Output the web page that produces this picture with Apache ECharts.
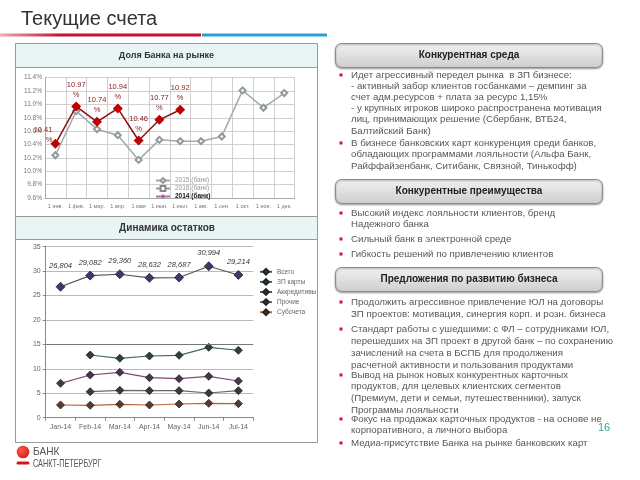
<!DOCTYPE html>
<html><head><meta charset="utf-8">
<script src="https://cdn.jsdelivr.net/npm/echarts@6/dist/echarts.min.js"></script>
<style>html,body{margin:0;padding:0;background:#fff;}#c{width:640px;height:480px;}</style>
</head><body><div id="c"></div>
<script>
// ---- data ----
const shareMonths = ['1 янв.', '1 фев.', '1 мар.', '1 апр.', '1 мая', '1 июн.', '1 июл.', '1 авг.', '1 сен.', '1 окт.', '1 ноя.', '1 дек.'];
const share2015 = [10.24, 10.90, 10.63, 10.54, 10.17, 10.47, 10.45, 10.45, 10.52, 11.21, 10.95, 11.17];
const shareCurrent = [10.41, 10.97, 10.74, 10.94, 10.46, 10.77, 10.92];
const shareTicks = [9.6, 11.4, 0.2];
const balMonths = ['Jan-14', 'Feb-14', 'Mar-14', 'Apr-14', 'May-14', 'Jun-14', 'Jul-14'];
const balTotal = [26.804, 29.082, 29.360, 28.632, 28.687, 30.994, 29.214];
const balSalary = [null, 12.83, 12.16, 12.63, 12.77, 14.41, 13.80];
const balLetters = [7.04, 8.74, 9.29, 8.19, 7.98, 8.47, 7.51];
const balOther = [null, 5.32, 5.60, 5.53, 5.53, 5.06, 5.53];
const balSub = [2.60, 2.53, 2.74, 2.60, 2.80, 2.94, 2.87];
const balTicks = [0, 35, 5];

const FONT = '"Liberation Sans", Arial, sans-serif';
const chart = echarts.init(document.getElementById('c'), null, {renderer: 'canvas'});

// ---- text content ----
const block1 = [
  {y: 75, lh: 11.2, lines: ['Идет агрессивный передел рынка  в ЗП бизнесе:', '- активный забор клиентов госбанками – демпинг за', 'счет адм.ресурсов + плата за ресурс 1,15%', '- у крупных игроков широко распространена мотивация', 'лиц, принимающих решение (Сбербанк, ВТБ24,', 'Балтийский Банк)']},
  {y: 143, lh: 11.5, lines: ['В бизнесе банковских карт конкуренция среди банков,', 'обладающих программами лояльности (Альфа Банк,', 'Райффайзенбанк, Ситибанк, Связной, Тинькофф)']}
];
const block2 = [
  {y: 213, lh: 11.5, lines: ['Высокий индекс лояльности клиентов, бренд', 'Надежного банка']},
  {y: 239, lh: 11.5, lines: ['Сильный банк в электронной среде']},
  {y: 254, lh: 11.5, lines: ['Гибкость решений по привлечению клиентов']}
];
const block3 = [
  {y: 302, lh: 12.5, lines: ['Продолжить агрессивное привлечение ЮЛ на договоры', 'ЗП проектов: мотивация, синергия корп. и розн. бизнеса']},
  {y: 329, lh: 12, lines: ['Стандарт работы с ушедшими: с ФЛ – сотрудниками ЮЛ,', 'перешедших на ЗП проект в другой банк – по сохранению', 'зачислений на счета в БСПБ для продолжения', 'расчетной активности и пользования продуктами']},
  {y: 375, lh: 11.7, lines: ['Вывод на рынок новых конкурентных карточных', 'продуктов, для целевых клиентских сегментов', '(Премиум, дети и семьи, путешественники), запуск', 'Программы лояльности']},
  {y: 419, lh: 11, lines: ['Фокус на продажах карточных продуктов - на основе не', 'корпоративного, а личного выбора']},
  {y: 443, lh: 11, lines: ['Медиа-присутствие Банка на рынке банковских карт']}
];

function txt(s, x, y, size, color, opts) {
  opts = opts || {};
  const el = {type: 'text', z: 10, silent: true, style: {
    text: s, x: x, y: y, fill: color,
    font: (opts.weight || 'normal') + ' ' + size + 'px ' + (opts.family || FONT),
    align: opts.align || 'left', textAlign: opts.align || 'left',
    verticalAlign: 'middle', textVerticalAlign: 'middle'
  }};
  if (opts.scaleX) { el.scaleX = opts.scaleX; el.originX = x; el.originY = y; }
  return el;
}
const g = [];
// title
g.push(txt('Текущие счета', 21, 19, 20, '#333'));
g.push({type: 'rect', shape: {x: 0, y: 33.5, width: 201, height: 3}, style: {fill: new echarts.graphic.LinearGradient(0, 0, 1, 0, [{offset: 0, color: 'rgba(200,16,46,0.35)'}, {offset: 0.3, color: '#c8102e'}, {offset: 1, color: '#c8102e'}])}});
g.push({type: 'rect', shape: {x: 202, y: 33.5, width: 125, height: 3}, style: {fill: '#2a9fd6'}});
// left panel
g.push({type: 'rect', z: 0, shape: {x: 15.5, y: 43.5, width: 302, height: 399}, style: {fill: 'none', stroke: '#9a9a9a', lineWidth: 1}});
g.push({type: 'rect', z: 0, shape: {x: 15.5, y: 43.5, width: 302, height: 24}, style: {fill: '#e9f4f4', stroke: '#9a9a9a', lineWidth: 1}});
g.push(txt('Доля Банка на рынке', 166.5, 55.5, 9, '#333', {weight: 'bold', align: 'center'}));
g.push({type: 'rect', z: 0, shape: {x: 15.5, y: 216.5, width: 302, height: 23}, style: {fill: '#e9f4f4', stroke: '#9a9a9a', lineWidth: 1}});
g.push(txt('Динамика остатков', 167, 228, 10, '#333', {weight: 'bold', align: 'center'}));
// right headers
function header(y, s) {
  g.push({type: 'rect', z: 1, shape: {x: 335.5, y: y + 0.5, width: 267, height: 24, r: 6},
    style: {fill: new echarts.graphic.LinearGradient(0, 0, 0, 1, [{offset: 0, color: '#f2f2f2'}, {offset: 1, color: '#cdcdcd'}]),
      stroke: '#8c8c8c', lineWidth: 1, shadowBlur: 2, shadowOffsetY: 1, shadowColor: 'rgba(0,0,0,0.35)'}});
  g.push(txt(s, 469, y + 12.5, 10, '#222', {weight: 'bold', align: 'center'}));
}
header(43, 'Конкурентная среда');
header(179, 'Конкурентные преимущества');
header(267, 'Предложения по развитию бизнеса');
function bullets(block) {
  block.forEach(b => {
    g.push({type: 'rect', z: 10, shape: {x: 339.5, y: b.y - 1.5, width: 3, height: 3}, style: {fill: '#d0103a'}});
    b.lines.forEach((l, i) => g.push(txt(l, 351, b.y + i * b.lh, 9.7, '#575757')));
  });
}
bullets(block1); bullets(block2); bullets(block3);
// page number
g.push(txt('16', 604, 428, 11, '#3aa39a', {align: 'center'}));
// logo
g.push({type: 'circle', shape: {cx: 23, cy: 452, r: 6.3}, style: {fill: new echarts.graphic.RadialGradient(0.35, 0.35, 0.8, [{offset: 0, color: '#ff5a4a'}, {offset: 1, color: '#d01818'}])}});
g.push({type: 'rect', shape: {x: 16.5, y: 461.5, width: 13, height: 3, r: 1.5}, style: {fill: '#d01818'}});
g.push(txt('БАНК', 33, 452, 11.5, '#555', {scaleX: 0.88}));
g.push(txt('САНКТ-ПЕТЕРБУРГ', 33, 464, 11, '#555', {scaleX: 0.66}));

const redData = shareCurrent.map((v, i) => i === 0 ? {value: v, label: {position: 'left', distance: 2, offset: [4, -9]}} : v);
const totalData = balTotal.map((v, i) => i === 0 ? {value: v, label: {distance: 12}} : v);

const option = {
  animation: false,
  textStyle: {fontFamily: FONT},
  graphic: {elements: g},
  grid: [
    {left: 45, top: 77.7, width: 249.6, height: 120.3},
    {left: 45.7, top: 246.7, width: 207.5, height: 171}
  ],
  legend: [
    {orient: 'vertical', left: 150, top: 172, itemGap: 1, itemWidth: 14, itemHeight: 6,
      textStyle: {fontSize: 6.5, color: '#999'},
      data: [{name: '2015 (банк)'}, {name: '2016 (банк)'}, {name: '2014 (банк)', textStyle: {fontWeight: 'bold', color: '#111'}}]},
    {orient: 'vertical', left: 254, top: 263, itemGap: 2.5, itemWidth: 12, itemHeight: 7,
      textStyle: {fontSize: 6.5, color: '#666'},
      data: ['Всего', 'ЗП карты', 'Аккредитивы', 'Прочие', 'Субсчета']}
  ],
  xAxis: [
    {gridIndex: 0, type: 'category', data: shareMonths, boundaryGap: true,
      axisLine: {lineStyle: {color: '#aaa'}}, axisTick: {show: false},
      axisLabel: {interval: 0, fontSize: 5.5, color: '#777', margin: 5},
      splitLine: {show: true, interval: 0, lineStyle: {color: '#c4c4c4', width: 0.8}}},
    {gridIndex: 1, type: 'category', data: balMonths, boundaryGap: true,
      axisLine: {lineStyle: {color: '#888'}}, axisTick: {show: true, length: 3, lineStyle: {color: '#888'}},
      axisLabel: {interval: 0, fontSize: 7, color: '#666', margin: 6}}
  ],
  yAxis: [
    {gridIndex: 0, type: 'value', min: shareTicks[0], max: shareTicks[1], interval: shareTicks[2],
      axisLine: {show: true, lineStyle: {color: '#aaa'}}, axisTick: {show: false},
      axisLabel: {formatter: v => v.toFixed(1) + '%', fontSize: 6.5, color: '#777', margin: 3},
      splitLine: {lineStyle: {color: '#c4c4c4', width: 0.8}}},
    {gridIndex: 1, type: 'value', min: balTicks[0], max: balTicks[1], interval: balTicks[2],
      axisLine: {show: true, lineStyle: {color: '#888'}}, axisTick: {show: true, length: 3, lineStyle: {color: '#888'}},
      axisLabel: {fontSize: 7, color: '#666', margin: 5},
      splitLine: {lineStyle: {color: '#a8a8a8', width: 0.8}}}
  ],
  series: [
    {name: '2015 (банк)', type: 'line', xAxisIndex: 0, yAxisIndex: 0, data: share2015,
      symbol: 'emptyDiamond', symbolSize: 6, lineStyle: {color: '#a3aaaa', width: 1.5},
      itemStyle: {color: '#8f9a9a', borderWidth: 1}},
    {name: '2016 (банк)', type: 'line', xAxisIndex: 0, yAxisIndex: 0, data: [],
      symbol: 'emptyRect', symbolSize: 6, lineStyle: {color: '#999'}, itemStyle: {color: '#888'}},
    {name: '2014 (банк)', type: 'line', xAxisIndex: 0, yAxisIndex: 0, data: [],
      symbol: 'diamond', symbolSize: 7, lineStyle: {color: '#b070b0'}, itemStyle: {color: '#a868a8'}},
    {name: '2014', type: 'line', xAxisIndex: 0, yAxisIndex: 0, data: redData, z: 4,
      symbol: 'diamond', symbolSize: 10, lineStyle: {color: '#8b1010', width: 1.5},
      itemStyle: {color: '#c00000'},
      label: {show: true, position: 'top', distance: 2, fontSize: 7.5, lineHeight: 10, color: '#8b2020',
        formatter: p => p.value.toFixed(2) + '\n%'}},
    {name: 'Всего', type: 'line', xAxisIndex: 1, yAxisIndex: 1, data: totalData,
      symbol: 'diamond', symbolSize: 9, lineStyle: {color: '#555', width: 1.2},
      itemStyle: {color: '#3b3a6e', borderColor: '#222', borderWidth: 0.8},
      label: {show: true, position: 'top', distance: 4, fontSize: 7.5, fontStyle: 'italic', color: '#333',
        formatter: p => p.value.toFixed(3).replace('.', ',')}},
    {name: 'ЗП карты', type: 'line', xAxisIndex: 1, yAxisIndex: 1, data: balSalary,
      symbol: 'diamond', symbolSize: 8, lineStyle: {color: '#3d6b5e', width: 1.2},
      itemStyle: {color: '#2f3f3a', borderColor: '#222', borderWidth: 0.8}},
    {name: 'Аккредитивы', type: 'line', xAxisIndex: 1, yAxisIndex: 1, data: balLetters,
      symbol: 'diamond', symbolSize: 8, lineStyle: {color: '#7a4c74', width: 1.2},
      itemStyle: {color: '#4a3550', borderColor: '#222', borderWidth: 0.8}},
    {name: 'Прочие', type: 'line', xAxisIndex: 1, yAxisIndex: 1, data: balOther,
      symbol: 'diamond', symbolSize: 8, lineStyle: {color: '#6a6a6a', width: 1.2},
      itemStyle: {color: '#3a3a3a', borderColor: '#222', borderWidth: 0.8},
      markLine: {silent: true, symbol: 'none', label: {show: false}, lineStyle: {color: '#777', width: 1, type: 'solid'},
        data: [{yAxis: 15}]}},
    {name: 'Субсчета', type: 'line', xAxisIndex: 1, yAxisIndex: 1, data: balSub,
      symbol: 'diamond', symbolSize: 8, lineStyle: {color: '#b5653d', width: 1.2},
      itemStyle: {color: '#5a3a2a', borderColor: '#222', borderWidth: 0.8}}
  ]
};
chart.setOption(option);
</script>
</body></html>
